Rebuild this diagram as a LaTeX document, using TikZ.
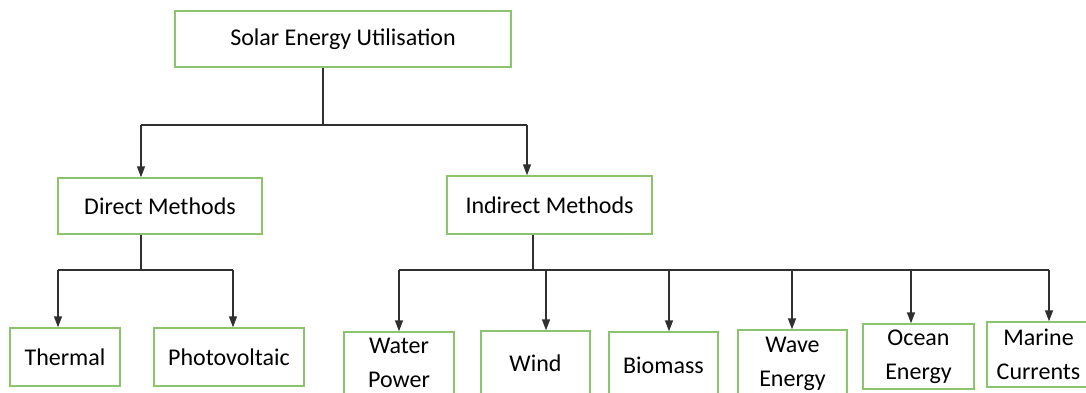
\documentclass[tikz,border=0pt]{standalone}
\usepackage{fontspec}
\setmainfont{Carlito}
\usetikzlibrary{arrows.meta}
\definecolor{boxgreen}{HTML}{8CC46E}
\definecolor{linegray}{HTML}{303030}
\tikzset{
  box/.style={draw=boxgreen, line width=1.4pt, fill=white, align=center, inner sep=0pt,
    font=\fontsize{24}{34}\selectfont},
  conn/.style={draw=linegray, line width=1.4pt},
  arr/.style={conn, -{Triangle[width=8pt,length=11pt]}}
}
\begin{document}
\begin{tikzpicture}[x=1pt,y=-1pt]
\useasboundingbox (0,0) rectangle (1086,392);
\clip (0,0) rectangle (1086,392);
% nodes
\node[box, minimum width=336pt, minimum height=56pt] (top) at (343,39) {Solar Energy Utilisation};
\node[box, minimum width=204pt, minimum height=56pt] (direct) at (160,206) {Direct Methods};
\node[box, minimum width=205pt, minimum height=58pt] (indirect) at (549.5,205) {Indirect Methods};
\node[box, minimum width=110pt, minimum height=58pt] (thermal) at (65,357) {Thermal};
\node[box, minimum width=150pt, minimum height=58pt] (photo) at (229,357) {Photovoltaic};
\node[box, minimum width=110pt, minimum height=62pt] (water) at (399,363) {Water\\Power};
\node[box, minimum width=109pt, minimum height=64pt] (wind) at (535.5,363) {Wind};
\node[box, minimum width=109pt, minimum height=66pt] (biomass) at (663.5,365) {Biomass};
\node[box, minimum width=109pt, minimum height=67pt] (wave) at (792.5,363.5) {Wave\\Energy};
\node[box, minimum width=111pt, minimum height=65pt] (ocean) at (918.5,356.5) {Ocean\\Energy};
\node[box, minimum width=103pt, minimum height=65pt] (marine) at (1038.5,354.5) {Marine\\Currents};
% junctions
\coordinate (j1) at (323,125);
\coordinate (j1l) at (141,125);
\coordinate (j1r) at (527,125);
\coordinate (j2) at (141,270);
\coordinate (j2l) at (58,270);
\coordinate (j2r) at (233,270);
\coordinate (j3) at (533,270);
\coordinate (j3a) at (399,270);
\coordinate (j3b) at (546,270);
\coordinate (j3c) at (669,270);
\coordinate (j3d) at (792,270);
\coordinate (j3e) at (911,270);
\coordinate (j3f) at (1049,270);
% level 1
\draw[conn] (top.south -| j1) -- (j1);
\draw[conn] (j1l) -- (j1r);
\draw[arr] (j1l) -- (j1l |- direct.north);
\draw[arr] (j1r) -- (j1r |- indirect.north);
% direct
\draw[conn] (direct.south -| j2) -- (j2);
\draw[conn] (j2l) -- (j2r);
\draw[arr] (j2l) -- (j2l |- thermal.north);
\draw[arr] (j2r) -- (j2r |- photo.north);
% indirect
\draw[conn] (indirect.south -| j3) -- (j3);
\draw[conn] (j3a) -- (j3f);
\draw[arr] (j3a) -- (j3a |- water.north);
\draw[arr] (j3b) -- (j3b |- wind.north);
\draw[arr] (j3c) -- (j3c |- biomass.north);
\draw[arr] (j3d) -- (j3d |- wave.north);
\draw[arr] (j3e) -- (j3e |- ocean.north);
\draw[arr] (j3f) -- (j3f |- marine.north);
\end{tikzpicture}
\end{document}
